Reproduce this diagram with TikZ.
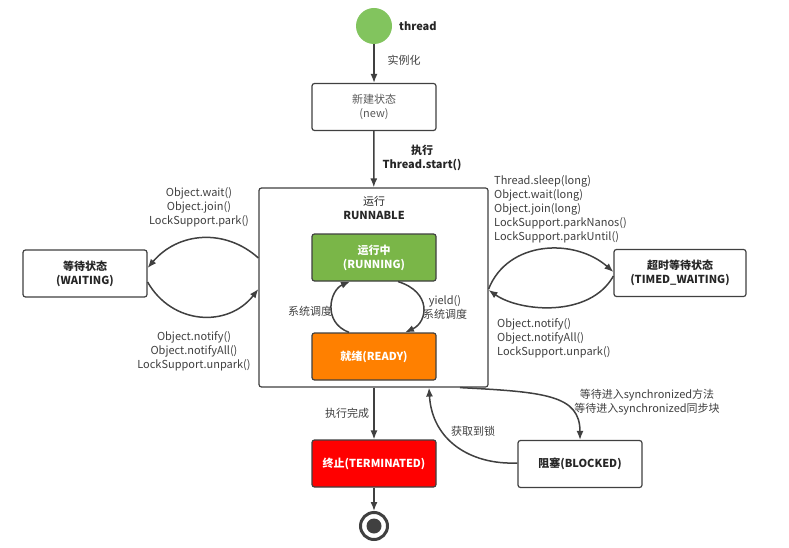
\documentclass[tikz,border=0pt]{standalone}
\usepackage{fontspec}
\setmainfont{Noto Sans CJK SC}
\usetikzlibrary{arrows.meta}
\definecolor{linec}{HTML}{404040}
\definecolor{txtc}{HTML}{404040}
\definecolor{startg}{HTML}{82C45E}
\definecolor{rung}{HTML}{7AB648}
\definecolor{readyo}{HTML}{FF8000}
\definecolor{termr}{HTML}{FF0000}
\tikzset{
  state/.style={draw=linec, line width=1.2pt, rounded corners=2.5pt, minimum width=124pt, minimum height=47pt, align=center, font=\fontsize{11}{14}\selectfont, inner sep=0pt},
  conn/.style={draw=linec, line width=1.5pt, -{Latex[length=9pt,width=7pt]}},
  lbl/.style={text=txtc, font=\fontsize{11}{14}\selectfont, align=center, inner sep=0pt},
  lbll/.style={text=txtc, font=\fontsize{11}{14}\selectfont, align=left, inner sep=0pt, anchor=north west},
  bld/.style={font=\fontsize{11}{14}\selectfont\bfseries},
}
\begin{document}
\begin{tikzpicture}[x=1pt,y=-1pt]
\useasboundingbox[fill=white] (0,0) rectangle (789,548);
% start
\node (start) [circle, fill=startg, minimum size=36pt, inner sep=0pt] at (374,26) {};
\node (thr) [lbl, text=black!85, bld, anchor=west] at (399,26) {thread};
% new
\node (new) [state, text=black!65] at (374,107) {新建状态\\(new)};
% runnable
\node (run) [draw=linec, line width=1.2pt, rounded corners=2.5pt, minimum width=229pt, minimum height=199pt, inner sep=0pt] at (373.5,287.5) {};
\node (runt) [lbl, text=black!85] at (374,208) {运行\\\textbf{RUNNABLE}};
\node (running) [state, fill=rung, text=white, bld] at (374,257.5) {运行中\\(RUNNING)};
\node (ready) [state, fill=readyo, text=white, bld] at (374,356.5) {就绪(READY)};
% waiting
\node (wait) [state, text=black!85, bld] at (85,273.5) {等待状态\\(WAITING)};
% timed
\node (timed) [state, minimum width=132pt, text=black!85, bld] at (680,273) {超时等待状态\\(TIMED\_WAITING)};
% terminated
\node (term) [state, fill=termr, text=white, bld] at (374,463.5) {终止(TERMINATED)};
% blocked
\node (block) [state, text=black!85, bld] at (580,464) {阻塞(BLOCKED)};
% end
\node (endc) [circle, draw=linec, line width=3pt, minimum size=27pt, inner sep=0pt] at (374,526) {};
\node (endi) [circle, fill=linec, minimum size=15pt, inner sep=0pt] at (374,526) {};

% connectors
\draw[conn] (start) -- (new);
\node (l1) [lbl] at (404,60) {实例化};
\draw[conn] (new) -- (run);
\node (l2) [lbl, text=black!85, bld] at (422,158) {执行\\Thread.start()};

\coordinate (rw1) at (run.west |- 0,258);
\coordinate (ww1) at (wait.east |- 0,268);
\draw[conn] (rw1) .. controls (225,228) and (178,232) .. (ww1);
\node (l3) [lbl] at (199,207) {Object.wait()\\Object.join()\\LockSupport.park()};
\coordinate (ww2) at (wait.east |- 0,282);
\coordinate (rw2) at (run.west |- 0,289);
\draw[conn] (ww2) .. controls (172,325) and (228,328) .. (rw2);
\node (l4) [lbl] at (194,351) {Object.notify()\\Object.notifyAll()\\LockSupport.unpark()};

\coordinate (re1) at (run.east |- 0,289);
\coordinate (te1) at (timed.west |- 0,272);
\draw[conn] (re1) .. controls (508,240) and (575,238) .. (te1);
\node (l5) [lbll] at (494,175) {Thread.sleep(long)\\Object.wait(long)\\Object.join(long)\\LockSupport.parkNanos()\\LockSupport.parkUntil()};
\coordinate (te2) at (timed.west |- 0,276);
\coordinate (re2) at (run.east |- 0,290);
\draw[conn] (te2) .. controls (590,318) and (520,312) .. (re2);
\node (l6) [lbll] at (497,318) {Object.notify()\\Object.notifyAll()\\LockSupport.unpark()};

\coordinate (rb1) at (398,281);
\coordinate (rt1) at (405,333);
\draw[conn] (running.south -| rb1) .. controls (432,292) and (428,322) .. (ready.north -| rt1);
\node (l7) [lbl] at (445,307) {yield()\\系统调度};
\coordinate (rb2) at (349,333);
\coordinate (rt2) at (350,281);
\draw[conn] (ready.north -| rb2) .. controls (322,322) and (330,290) .. (running.south -| rt2);
\node (l8) [lbl] at (310,311) {系统调度};

\draw[conn] (run.south -| term) -- (term);
\node (l9) [lbl] at (347,413) {执行完成};
\draw[conn] (term) -- (endc);

\coordinate (rs1) at (460,387);
\draw[conn] (run.south -| rs1) .. controls (545,392) and (580,395) .. (block.north);
\node (l10) [lbl] at (647,402) {等待进入synchronized方法\\等待进入synchronized同步块};
\coordinate (rs2) at (429,387);
\coordinate (bw) at (block.west |- 0,463);
\draw[conn] (bw) .. controls (470,465) and (432,440) .. (run.south -| rs2);
\node (l11) [lbl] at (473,431) {获取到锁};
\end{tikzpicture}
\end{document}
